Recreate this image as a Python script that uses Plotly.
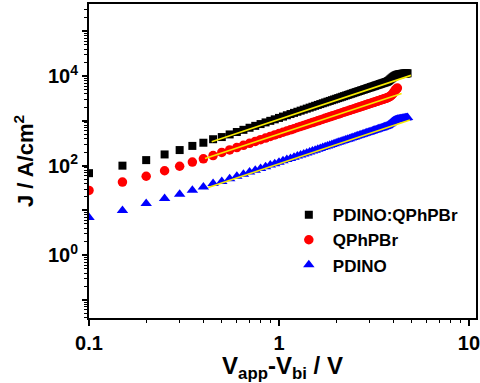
import plotly.graph_objects as go

# Applied voltage (V_app - V_bi), V
V = [0.1, 0.15, 0.2, 0.25, 0.3, 0.35, 0.4, 0.45,
     0.5, 0.55, 0.6, 0.65, 0.7, 0.75, 0.8, 0.85, 0.9, 0.95,
     1.0, 1.05, 1.1, 1.15, 1.2, 1.25, 1.3, 1.35, 1.4, 1.45,
     1.5, 1.55, 1.6, 1.65, 1.7, 1.75, 1.8, 1.85, 1.9, 1.95,
     2.0, 2.05, 2.1, 2.15, 2.2, 2.25, 2.3, 2.35, 2.4, 2.45,
     2.5, 2.55, 2.6, 2.65, 2.7, 2.75, 2.8, 2.85, 2.9, 2.95,
     3.0, 3.05, 3.1, 3.15, 3.2, 3.25, 3.3, 3.35, 3.4, 3.45,
     3.5, 3.55, 3.6, 3.65, 3.7, 3.75, 3.8, 3.85, 3.9, 3.95,
     4.0, 4.05, 4.1, 4.15, 4.2, 4.25, 4.3, 4.35, 4.4, 4.45,
     4.5, 4.55, 4.6, 4.65, 4.7, 4.75]

J_blend = [68, 100, 133, 178, 223, 276, 325, 389,
           435, 498, 564, 631, 702, 774, 848, 924, 1002, 1082,
           1164, 1247, 1333, 1420, 1508, 1598, 1690, 1782, 1877, 1973,
           2070, 2169, 2269, 2370, 2473, 2577, 2682, 2788, 2896, 3005,
           3115, 3226, 3338, 3452, 3566, 3682, 3798, 3917, 4035, 4155,
           4276, 4398, 4521, 4645, 4770, 4896, 5022, 5150, 5279, 5409,
           5539, 5670, 5803, 5936, 6071, 6207, 6342, 6480, 6617, 6756,
           6895, 7035, 7176, 7318, 7461, 7700, 8000, 8400, 8800, 9200,
           9600, 9950, 10250, 10500, 10700, 10850, 10950, 11050, 11150, 11250,
           11300, 11350, 11400, 11450, 11500, 11550]

J_qph = [28, 43, 58, 77, 97, 120, 142, 168,
         197, 225, 254, 285, 316, 348, 381, 414, 449, 484,
         520, 557, 594, 632, 671, 711, 751, 792, 833, 875,
         917, 960, 1004, 1048, 1093, 1138, 1184, 1230, 1277, 1324,
         1372, 1420, 1469, 1519, 1568, 1618, 1669, 1720, 1771, 1823,
         1876, 1928, 1981, 2035, 2089, 2143, 2198, 2253, 2309, 2365,
         2421, 2477, 2535, 2592, 2650, 2708, 2766, 2825, 2885, 2944,
         3004, 3064, 3125, 3186, 3247, 3330, 3430, 3560, 3720, 3900,
         4200, 4550, 4900, 5200, 5400]

J_pdino = [7, 10, 14.3, 18.5, 23, 28.3, 33.6, 40,
           44.5, 51, 57.8, 64.6, 72, 79.3, 86.9, 94.7, 103, 111,
           119, 128, 137, 145, 155, 164, 173, 182, 192, 203,
           212, 222, 232, 243, 253, 264, 275, 285, 297, 308,
           320, 331, 342, 353, 365, 377, 389, 401, 414, 426,
           438, 451, 464, 476, 489, 502, 515, 528, 541, 554,
           567, 581, 594, 609, 622, 636, 650, 663, 678, 692,
           706, 721, 735, 750, 764, 792, 826, 864, 907, 950,
           990, 1020, 1045, 1065, 1080, 1090, 1100, 1110, 1120, 1130,
           1140, 1150, 1160, 1170, 1180, 1190]

# Linear (log-log) fits: end points
fit_blend_v, fit_blend_j = [0.4425, 4.95], [340, 10370]
fit_qph_v, fit_qph_j = [0.408, 4.42], [145, 4105]
fit_pdino_v, fit_pdino_j = [0.424, 4.89], [32.6, 1040]

labels = ["PDINO:QPhPBr", "QPhPBr", "PDINO"]

x_major = [0.1, 1, 10]
x_major_text = ["0.1", "1", "10"]
x_minor = [0.2, 0.3, 0.4, 0.5, 0.6, 0.7, 0.8, 0.9, 2, 3, 4, 5, 6, 7, 8, 9]
y_major = [0.1, 1, 10, 100, 1000, 1e4, 1e5]
y_major_text = ["", "10<sup>0</sup>", "", "10<sup>2</sup>", "", "10<sup>4</sup>", ""]
y_minor = [m * d for d in [0.01, 0.1, 1, 10, 100, 1000, 1e4, 1e5] for m in range(2, 10)]
y_minor = [v for v in y_minor if 0.04 <= v <= 3.9e5]

FONT = "Arial, Liberation Sans, sans-serif"

fig = go.Figure()
fig.add_trace(go.Scatter(x=V[:len(J_blend)], y=J_blend, mode="markers", name=labels[0],
                         marker=dict(symbol="square", size=8, color="black")))
fig.add_trace(go.Scatter(x=V[:len(J_qph)], y=J_qph, mode="markers", name=labels[1],
                         marker=dict(symbol="circle", size=9.5, color="#ff0000")))
fig.add_trace(go.Scatter(x=V[:len(J_pdino)], y=J_pdino, mode="markers", name=labels[2],
                         marker=dict(symbol="triangle-up", size=10, color="#0000ff")))
for fv, fj in [(fit_blend_v, fit_blend_j), (fit_qph_v, fit_qph_j), (fit_pdino_v, fit_pdino_j)]:
    fig.add_trace(go.Scatter(x=fv, y=fj, mode="lines", showlegend=False,
                             line=dict(color="#f5ea00", width=1.6)))

fig.update_layout(
    width=480, height=383,
    margin=dict(l=89, r=4, t=4, b=65, autoexpand=False),
    paper_bgcolor="white", plot_bgcolor="white",
    font=dict(family=FONT, color="black"),
    showlegend=True,
    legend=dict(x=0.506, y=0.385, xanchor="left", yanchor="top",
                bgcolor="rgba(0,0,0,0)", itemwidth=38,
                font=dict(family=FONT, size=17, weight="bold", color="black")),
)
fig.update_xaxes(
    type="log", range=[-1, 1.037], automargin=False,
    showgrid=False, zeroline=False,
    showline=True, linewidth=2, linecolor="black", mirror=True,
    tickmode="array", tickvals=x_major, ticktext=x_major_text,
    ticklabeloverflow="allow",
    ticks="outside", ticklen=6, tickwidth=1.5, tickcolor="black",
    tickfont=dict(family=FONT, size=20, weight="bold"),
    minor=dict(tickvals=x_minor, ticks="outside", ticklen=3, tickwidth=1.2, tickcolor="black"),
    title=dict(text="V<sub>app</sub>-V<sub>bi</sub> / V",
               font=dict(family=FONT, size=24, weight="bold"), standoff=2),
)
fig.update_yaxes(
    type="log", range=[-1.401, 5.609], automargin=False,
    showgrid=False, zeroline=False,
    showline=True, linewidth=2, linecolor="black", mirror=True,
    tickmode="array", tickvals=y_major, ticktext=y_major_text,
    ticklabeloverflow="allow",
    ticks="outside", ticklen=5, tickwidth=1.5, tickcolor="black",
    tickfont=dict(family=FONT, size=20, weight="bold"),
    minor=dict(tickvals=y_minor, ticks="outside", ticklen=3, tickwidth=1.2, tickcolor="black"),
    title=dict(text="J / A/cm<sup>2</sup>",
               font=dict(family=FONT, size=22, weight="bold"), standoff=8),
)

fig.write_html("out.html", config={"displayModeBar": False},
               post_script="document.body.style.margin='0';document.body.style.overflow='hidden';")
